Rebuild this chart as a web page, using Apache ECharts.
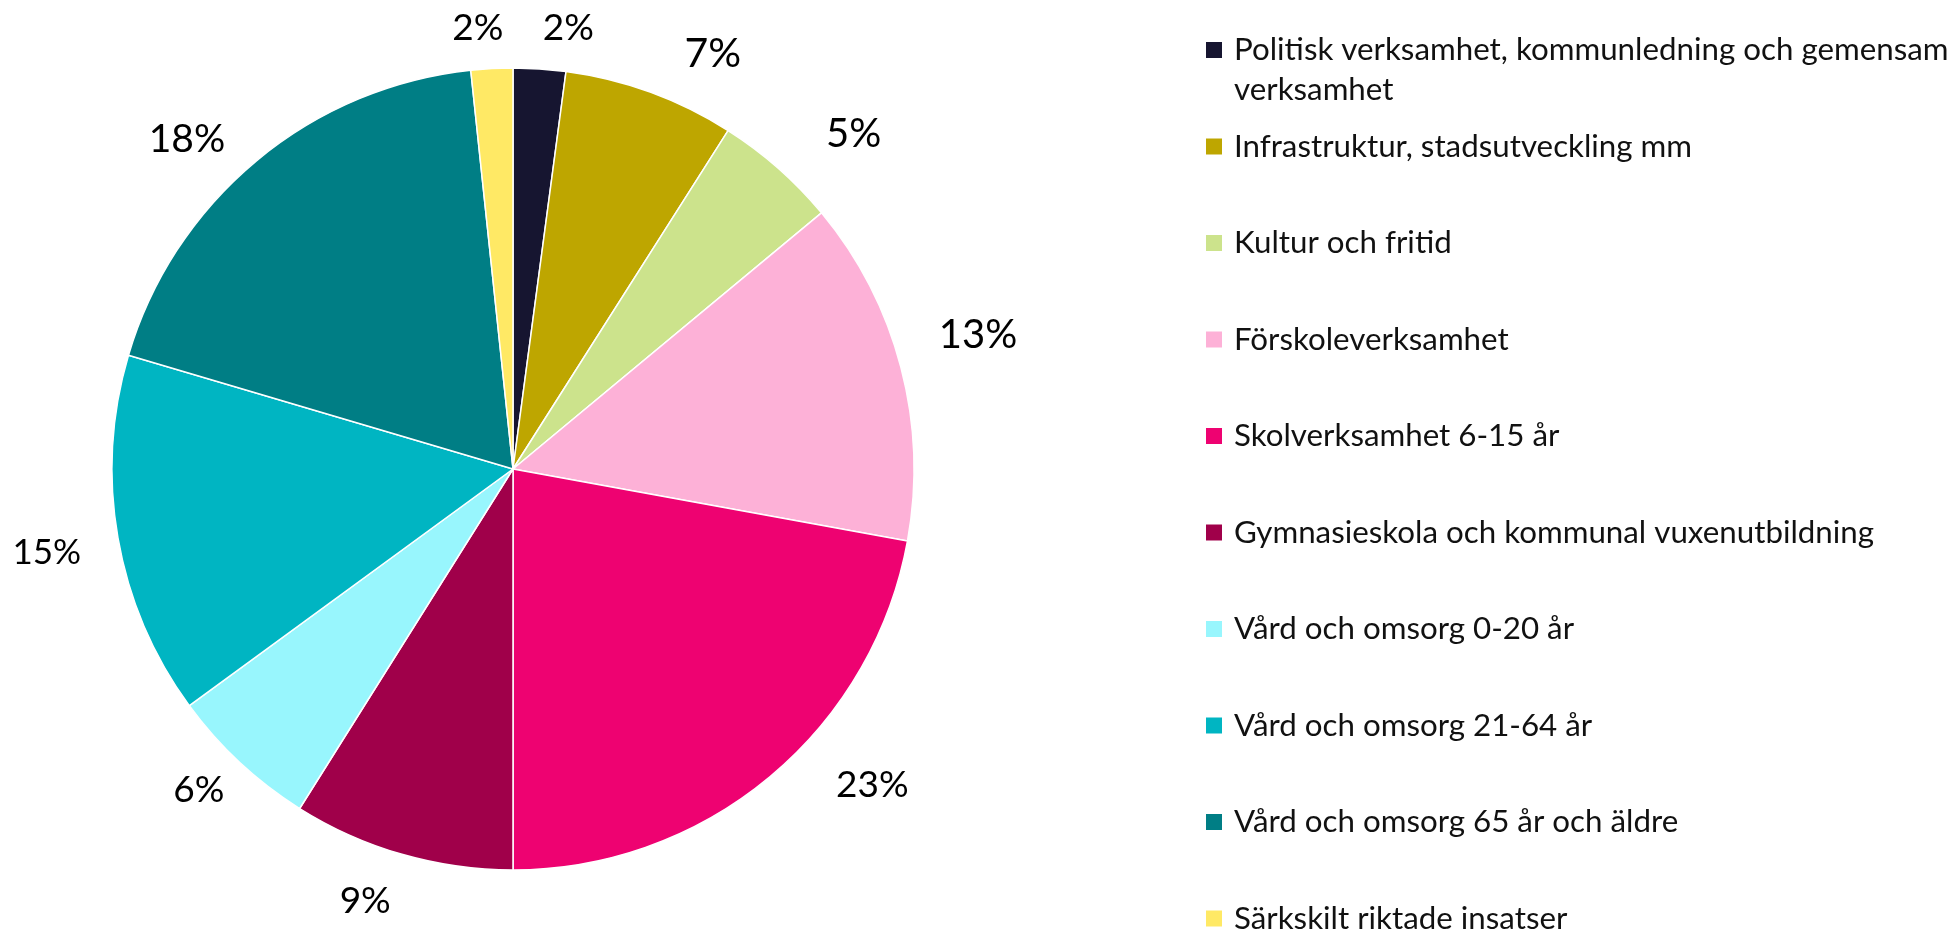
<!DOCTYPE html>
<html>
<head>
<meta charset="utf-8">
<script src="https://cdn.jsdelivr.net/npm/echarts@6/dist/echarts.min.js"></script>
<style>
html,body{margin:0;padding:0;background:#ffffff;}
#chart{width:1950px;height:939px;}
</style>
</head>
<body>
<div id="chart"></div>
<script>
// ---- data ----
const categories = [
  'Politisk verksamhet, kommunledning och gemensam verksamhet',
  'Infrastruktur, stadsutveckling mm',
  'Kultur och fritid',
  'Förskoleverksamhet',
  'Skolverksamhet 6-15 år',
  'Gymnasieskola och kommunal vuxenutbildning',
  'Vård och omsorg 0-20 år',
  'Vård och omsorg 21-64 år',
  'Vård och omsorg 65 år och äldre',
  'Särkskilt riktade insatser'
];
// share of total (%)
const shares = [2.11, 6.90, 4.96, 13.90, 22.13, 8.93, 6.02, 14.63, 18.74, 1.68];
// percentage labels as printed on the chart
const printedLabels = ['2%', '7%', '5%', '13%', '23%', '9%', '6%', '15%', '18%', '2%'];
const colors = ['#161530', '#bea600', '#cce38c', '#fdb1d7', '#ee0271',
                '#a0004a', '#98f6fd', '#00b5c2', '#007e85', '#ffe965'];

// ---- presentation ----
const FONT = 'Lato, "Noto Sans", sans-serif';
const LEGEND_FS = 31.3;
const labelFontSizes = [37, 41, 40, 40, 37, 37, 37, 35, 39, 37];
const labelNudge = [[25,16],[43,15],[38,9],[22,-18],[66,-36],[-21,-8],[-2,-14],[-15,5],[-33,22],[-11,16]];

function wrapName(name) {
  const max = 48;
  if (name.length <= max) return '{a|' + name + '}\n{b| }';
  const cut = name.lastIndexOf(' ', max);
  return '{a|' + name.slice(0, cut) + '}\n{b|' + name.slice(cut + 1) + '}';
}

const pieData = categories.map((name, i) => ({
  name: name,
  value: shares[i],
  itemStyle: { color: colors[i] }
}));
const labelData = categories.map((name, i) => ({
  name: name,
  value: shares[i],
  label: { fontSize: labelFontSizes[i] }
}));

const chart = echarts.init(document.getElementById('chart'), null, { renderer: 'canvas' });
chart.setOption({
  animation: false,
  backgroundColor: '#ffffff',
  legend: {
    type: 'plain',
    orient: 'vertical',
    left: 1206,
    top: 30,
    height: 1100,
    padding: 0,
    itemWidth: 16,
    itemHeight: 16,
    itemGap: 21,
    icon: 'rect',
    itemStyle: { borderWidth: 0 },
    selectedMode: false,
    data: categories,
    formatter: wrapName,
    textStyle: {
      fontFamily: FONT,
      fontSize: LEGEND_FS,
      lineHeight: 40,
      color: '#111111',
      padding: [0, 0, 0, 7],
      rich: {
        a: { fontFamily: FONT, fontSize: LEGEND_FS, lineHeight: 40, color: '#111111' },
        b: { fontFamily: FONT, fontSize: LEGEND_FS, lineHeight: 0, verticalAlign: 'top', padding: [4.5, 0, 0, 0], color: '#111111' }
      }
    }
  },
  series: [
    {
      type: 'pie',
      center: [513, 469],
      radius: 401,
      startAngle: 90,
      clockwise: true,
      label: { show: false },
      labelLine: { show: false },
      itemStyle: { borderColor: '#ffffff', borderWidth: 1.5 },
      emphasis: { disabled: true },
      data: pieData
    },
    {
      type: 'pie',
      center: [513, 469],
      radius: [440, 470],
      startAngle: 90,
      clockwise: true,
      silent: true,
      itemStyle: { color: 'rgba(0,0,0,0)', borderWidth: 0 },
      emphasis: { disabled: true },
      labelLine: { show: false },
      label: {
        show: true,
        position: 'inside',
        rotate: 0,
        fontFamily: FONT,
        color: '#000000',
        formatter: p => printedLabels[p.dataIndex]
      },
      labelLayout: p => ({ dx: labelNudge[p.dataIndex][0], dy: labelNudge[p.dataIndex][1] }),
      data: labelData
    }
  ]
});
</script>
</body>
</html>
